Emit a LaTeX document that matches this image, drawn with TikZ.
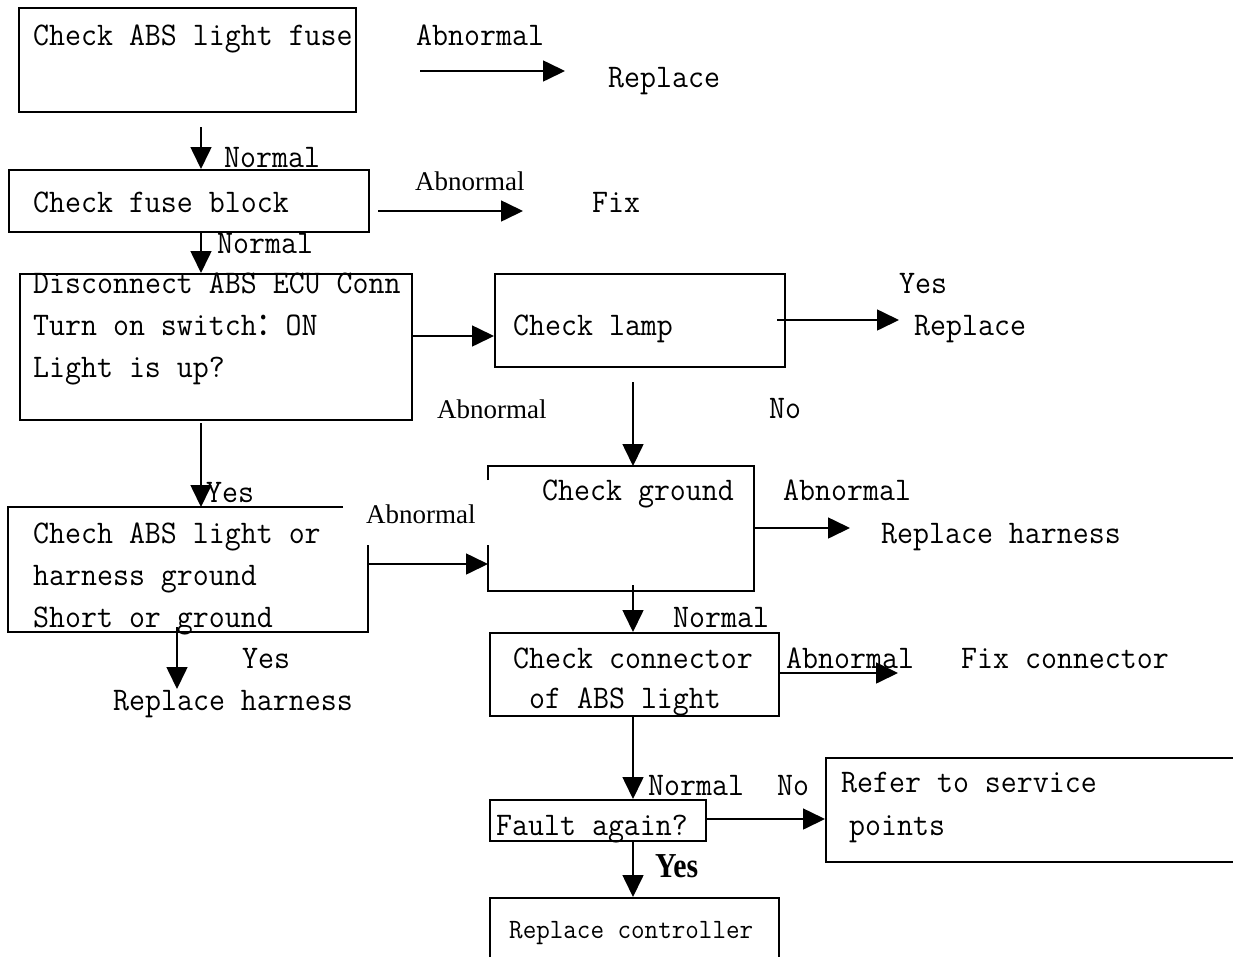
\documentclass[tikz,border=0pt]{standalone}
\usepackage{fontspec}
\usetikzlibrary{arrows.meta}
\newfontfamily\monof[FakeStretch=0.94]{Latin Modern Mono}
\newfontfamily\serf{Liberation Serif}
\newfontfamily\serc[FakeStretch=0.85]{Liberation Serif}
\newfontfamily\cjkf[FakeStretch=0.9]{Noto Sans CJK SC}
\tikzset{
  box/.style={draw, line width=2pt, inner sep=0pt, anchor=north west},
  ghost/.style={draw=none, inner sep=0pt, anchor=north west},
  arr/.style={line width=1.6pt, -{Triangle[length=22pt,width=21pt]}},
  txt/.style={anchor=base west, inner sep=0pt, font=\monof\fontsize{33}{40}\selectfont},
  txts/.style={anchor=base west, inner sep=0pt, font=\monof\fontsize{28}{34}\selectfont},
  txtb/.style={anchor=base west, inner sep=0pt, font=\serc\bfseries\fontsize{35}{42}\selectfont},
  ser/.style={anchor=base west, inner sep=0pt, font=\serf\fontsize{27}{32}\selectfont},
}
\begin{document}
\begin{tikzpicture}[x=1pt,y=-1pt]
\useasboundingbox (0,0) rectangle (1233,956);
\clip (0,0) rectangle (1233,956);
% boxes
\node[box, minimum width=337pt, minimum height=104pt] (b1) at (18,7) {};
\node[box, minimum width=360pt, minimum height=62pt] (b2) at (8,169) {};
\node[box, minimum width=392pt, minimum height=146pt] (b3) at (18.6,273) {};
\node[box, minimum width=290pt, minimum height=93pt] (b4) at (494,273) {};
\node[ghost, minimum width=266pt, minimum height=125pt] (b5) at (488,466) {};
\node[ghost, minimum width=360pt, minimum height=125pt] (b6) at (8,507) {};
\node[box, minimum width=289pt, minimum height=83pt] (b7) at (489,632) {};
\node[box, minimum width=216pt, minimum height=41pt] (b8) at (489,799) {};
\node[box, minimum width=440pt, minimum height=104pt] (b9) at (825,757) {};
\node[box, minimum width=289pt, minimum height=90pt] (b10) at (489,897) {};
% gapped borders
\draw[line width=2pt] (b5.west |- 0,480) -- (b5.north west) -- (b5.north east) -- (b5.south east) -- (b5.south west) -- (b5.west |- 0,545);
\draw[line width=2pt] (343,0 |- b6.north) -- (b6.north west) -- (b6.south west) -- (b6.south east) -- (b6.east |- 0,545);
% texts
\node[txt] (t1) at (33,45) {Check ABS light fuse};
\node[txt] (l1) at (416,45) {Abnormal};
\node[txt] (r1) at (608,87) {Replace};
\node[txt] (n1) at (224,167) {Normal};
\node[txt] (t2) at (33,212) {Check fuse block};
\node[ser] (l2) at (415,190) {Abnormal};
\node[txt] (r2) at (592,212) {Fix};
\node[txt] (n2) at (217,253) {Normal};
\node[txt] (t3a) at (33,293) {Disconnect ABS ECU Conn};
\node[txt] (t3b) at (33,335) {Turn on switch{\cjkf\fontsize{32}{38}\selectfont ：}ON};
\node[txt] (t3c) at (33,377) {Light is up?};
\node[txt] (t4) at (513,335) {Check lamp};
\node[txt] (y4) at (899,293) {Yes};
\node[txt] (r4) at (914,335) {Replace};
\node[ser] (l3) at (437,418) {Abnormal};
\node[txt] (no4) at (769,418) {No};
\node[txt] (t5) at (542,500) {Check ground};
\node[txt] (l5) at (783,500) {Abnormal};
\node[txt] (r5) at (881,543) {Replace harness};
\node[txt] (y3) at (206,502) {Yes};
\node[ser] (l6) at (366,523) {Abnormal};
\node[txt] (t6a) at (33,543) {Chech ABS light or};
\node[txt] (t6b) at (33,585) {harness ground};
\node[txt] (t6c) at (33,627) {Short or ground};
\node[txt] (y6) at (242,668) {Yes};
\node[txt] (r6) at (113,710) {Replace harness};
\node[txt] (n5) at (673,627) {Normal};
\node[txt] (t7a) at (513,668) {Check connector};
\node[txt] (t7b) at (529,708) {of ABS light};
\node[txt] (l7) at (786,668) {Abnormal};
\node[txt] (r7) at (961,668) {Fix connector};
\node[txt] (n7) at (648,795) {Normal};
\node[txt] (no8) at (777,795) {No};
\node[txt] (t8) at (496,835) {Fault again?};
\node[txt] (t9a) at (841,792) {Refer to service};
\node[txt] (t9b) at (849,835) {points};
\node[txtb] (y8) at (655,877) {Yes};
\node[txts] (t10) at (509,938) {Replace controller};
% connector free ends
\coordinate (a1) at (201,127);
\coordinate (p1s) at (420,71);
\coordinate (p1e) at (565,71);
\coordinate (p2s) at (378,211);
\coordinate (p2e) at (523,211);
\coordinate (p4s) at (777,320);
\coordinate (p4e) at (899,320);
\coordinate (p5s) at (633,382);
\coordinate (p3s) at (201,423);
\coordinate (p6e) at (754,528);
\coordinate (p6f) at (850,528);
\coordinate (p7s) at (177,627);
\coordinate (p7e) at (177,689);
\coordinate (p8s) at (633,585);
\coordinate (p9s) at (778,673);
\coordinate (p9e) at (898,673);
% connectors
\draw[arr] (a1) -- (a1 |- b2.north);
\draw[arr] (p1s) -- (p1e);
\draw[arr] (p2s) -- (p2e);
\draw[arr] (b2.south -| a1) -- (b3.north -| a1);
\draw[arr] (b3.east |- 0,336) -- (b4.west |- 0,336);
\draw[arr] (p4s) -- (p4e);
\draw[arr] (p5s) -- (p5s |- b5.north);
\draw[arr] (p3s) -- (p3s |- b6.north);
\draw[arr] (b6.east |- 0,564) -- (b5.west |- 0,564);
\draw[arr] (p6e) -- (p6f);
\draw[arr] (p7s) -- (p7e);
\draw[arr] (p8s) -- (p8s |- b7.north);
\draw[arr] (p9s) -- (p9e);
\draw[arr] (b7.south -| p8s) -- (b8.north -| p8s);
\draw[arr] (b8.east |- 0,819) -- (b9.west |- 0,819);
\draw[arr] (b8.south -| p8s) -- (b10.north -| p8s);
\end{tikzpicture}
\end{document}
